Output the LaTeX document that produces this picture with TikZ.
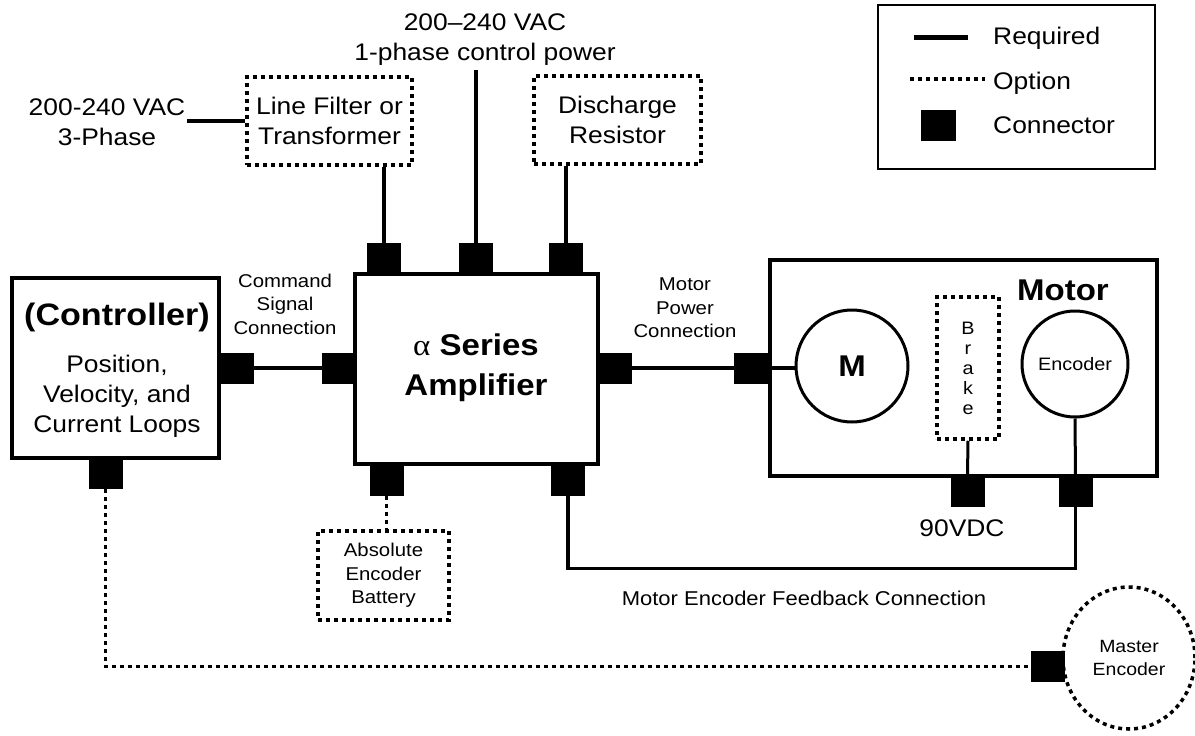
\documentclass[tikz,border=0pt]{standalone}
\usepackage{fontspec}
\setmainfont{Liberation Sans}[FakeStretch=1.1]
\newfontfamily\greekserif{Liberation Serif}[FakeStretch=1.1]
\usetikzlibrary{shapes.geometric}
\begin{document}
\begin{tikzpicture}[x=1pt,y=-1pt,
  conn/.style={fill=black,minimum width=34,minimum height=31,inner sep=0},
  block/.style={draw,line width=4,inner sep=0},
  req/.style={line width=4},
  opt/.style={line width=3.5,dash pattern=on 4pt off 4pt},
  optbox/.style={draw,opt,inner sep=0,txtbig},
  txtbig/.style={font=\fontsize{24}{30}\selectfont,align=center},
  txtsmall/.style={font=\fontsize{18.5}{23.5}\selectfont,align=center},
  txthead/.style={font=\fontsize{30}{40}\selectfont\bfseries,align=center}]
\useasboundingbox (0,0) rectangle (1195,736);
% legend
\node[draw,line width=2.5,minimum width=277,minimum height=164] (legend) at (1016.5,87) {};
\draw[line width=5] (914,37) -- (968,37);
\draw[opt] (910,79) -- (985,79);
\node[conn,minimum width=35] (legconn) at (938.5,125.5) {};
\node[txtbig,anchor=base west,inner sep=0] (legreq) at (993,44) {Required};
\node[txtbig,anchor=base west,inner sep=0] (legopt) at (993,89) {Option};
\node[txtbig,anchor=base west,inner sep=0] (legcon) at (993,133) {Connector};
% option boxes
\node[optbox,minimum width=165,minimum height=88] (filter) at (329.5,121) {Line Filter or\\Transformer};
\node[optbox,minimum width=167,minimum height=88] (disch) at (617.5,120) {Discharge\\Resistor};
\node[optbox,txtsmall,minimum width=131,minimum height=89] (battery) at (383.5,575.5) {Absolute\\Encoder\\Battery};
% main blocks
\node[block,minimum width=207,minimum height=180] (ctl) at (115.5,368) {};
\node[font=\fontsize{31}{36}\selectfont\bfseries] (ctlname) at (117,317) {(Controller)};
\node[txtbig] (ctlloops) at (117,396) {Position,\\Velocity, and\\Current Loops};
\node[block,minimum width=243,minimum height=190] (amp) at (476.5,369) {};
\node[txthead] (ampname) at (476,368) {{\greekserif\mdseries α} Series\\Amplifier};
\node[block,minimum width=387,minimum height=216] (motor) at (963.5,368) {};
\node[font=\fontsize{30}{36}\selectfont\bfseries] (motorname) at (1063,290) {Motor};
\node[circle,draw,line width=3,minimum size=112,inner sep=0,font=\fontsize{30}{36}\selectfont\bfseries] (mcirc) at (852,366) {M};
\node[draw,opt,minimum width=62,minimum height=142,inner sep=0,align=center,font=\fontsize{18}{20}\selectfont] (brake) at (968,368) {B\\r\\a\\k\\e};
\node[circle,draw,line width=3,minimum size=106,inner sep=0,font=\fontsize{18}{22}\selectfont] (enc) at (1075,364) {Encoder};
\node[ellipse,draw,opt,minimum width=132,minimum height=142,inner sep=0,font=\fontsize{17.7}{23}\selectfont,align=center] (master) at (1129,658) {Master\\Encoder};
% connectors
\node[conn] (ampt1) at (383.5,258.5) {};
\node[conn] (ampt2) at (475.5,258.5) {};
\node[conn] (ampt3) at (566,258.5) {};
\node[conn] (ctlr) at (236.5,368) {};
\node[conn] (ampl) at (339,368) {};
\node[conn] (ampr) at (615,368) {};
\node[conn] (motl) at (751,368) {};
\node[conn] (ampb1) at (386.5,480) {};
\node[conn] (ampb2) at (568,480) {};
\node[conn] (ctlb) at (105.5,473.5) {};
\node[conn] (brakeb) at (967.5,491) {};
\node[conn] (encb) at (1075.5,491.5) {};
\node[conn] (masterc) at (1047.5,666.5) {};
% supply texts
\node[txtbig] (vac3) at (107,122) {200-240 VAC\\3-Phase};
\node[txtbig] (cptext) at (485,40) {200–240 VAC\\1-phase control power};
\coordinate (vacin) at (187,121);
\coordinate (cpin) at (475.5,70);
% wiring
\draw[req] (vacin) -- (filter.west);
\draw[req] (filter.south -| ampt1) -- (ampt1.north);
\draw[req] (cpin) -- (ampt2.north);
\draw[req] (disch.south -| ampt3) -- (ampt3.north);
\draw[req] (ctlr) -- (ampl);
\draw[req] (ampr) -- (motl);
\draw[req] (motl.east) -- (motl.east -| mcirc.west);
\draw[line width=3.5] (ampb2.south) -- ++(0,73) -| (encb.south);
\draw[line width=3] (brake.south) -- (brakeb.north);
\draw[line width=3] (enc.south) -- (encb.north);
\draw[opt] (ampb1.south) -- (ampb1.south |- battery.north);
\draw[opt] (ctlb.south) |- (masterc.west);
% labels
\node[txtsmall] (cmdlabel) at (285,304) {Command\\Signal\\Connection};
\node[txtsmall] (pwrlabel) at (685,308) {Motor\\Power\\Connection};
\node[font=\fontsize{20}{25}\selectfont] (fblabel) at (804,598) {Motor Encoder Feedback Connection};
\node[txtbig] (vdc) at (962,528) {90VDC};
\end{tikzpicture}
\end{document}
